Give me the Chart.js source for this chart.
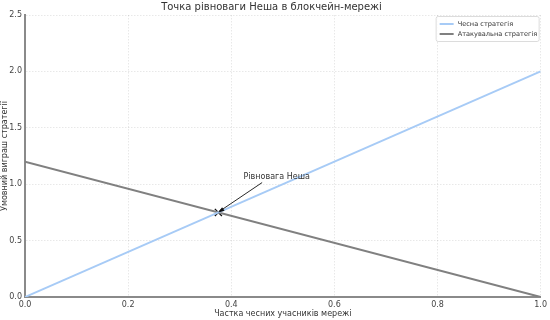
<!DOCTYPE html>
<html>
<head>
<meta charset="utf-8">
<script src="https://cdn.jsdelivr.net/npm/chart.js@4.4.1/dist/chart.umd.min.js"></script>
<style>
html,body{margin:0;padding:0;background:#fff;}
#wrap{width:550px;height:320px;}
</style>
</head>
<body>
<div id="wrap"><canvas id="c" width="550" height="320"></canvas></div>
<script>
const titleText = "Точка рівноваги Неша в блокчейн-мережі";
const xTitle = "Частка чесних учасників мережі";
const yTitle = "Умовний виграш стратегії";
const xShare = [0, 1];
const honestPayoff = [0, 2];
const attackPayoff = [1.2, 0];
const seriesLabels = ["Чесна стратегія", "Атакувальна стратегія"];
const equilibrium = [{x: 0.375, y: 0.75}];
const annotationText = "Рівновага Неша";
const annotationTextPos = {x: 0.42, y: 1.05};
const xTicks = [0, 0.2, 0.4, 0.6, 0.8, 1.0];
const yTicks = [0, 0.5, 1.0, 1.5, 2.0, 2.5];

const FONT = "'DejaVu Sans', sans-serif";
const honestColor = "#a7cbf6";
const attackColor = "#808080";

const annotPlugin = {
  id: 'annot',
  afterDatasetsDraw(chart) {
    const {ctx, scales: {x, y}} = chart;
    const px = x.getPixelForValue(equilibrium[0].x), py = y.getPixelForValue(equilibrium[0].y);
    const tx = x.getPixelForValue(annotationTextPos.x), ty = y.getPixelForValue(annotationTextPos.y);
    ctx.save();
    ctx.font = "8px " + FONT;
    ctx.fillStyle = "#333";
    ctx.textBaseline = "alphabetic";
    ctx.textAlign = "left";
    ctx.fillText(annotationText, tx + 2, ty);
    const w = ctx.measureText(annotationText).width;
    const sx = tx + 2 + w * 0.28, sy = ty + 4;
    ctx.strokeStyle = "#111";
    ctx.lineWidth = 0.9;
    ctx.beginPath(); ctx.moveTo(sx, sy); ctx.lineTo(px + 1, py - 1); ctx.stroke();
    const ang = Math.atan2(py - sy, px - sx);
    const hl = 6, hw = 2.2;
    const bx = px - Math.cos(ang) * hl, by = py - Math.sin(ang) * hl;
    ctx.fillStyle = "#111";
    ctx.beginPath();
    ctx.moveTo(px, py);
    ctx.lineTo(bx + Math.sin(ang) * hw, by - Math.cos(ang) * hw);
    ctx.lineTo(bx - Math.sin(ang) * hw, by + Math.cos(ang) * hw);
    ctx.closePath(); ctx.fill();
    ctx.restore();
  },
  afterDraw(chart) {
    const {ctx, chartArea} = chart;
    ctx.save();
    const bx = chartArea.right - 105, by = chartArea.top + 1, bw = 103, bh = 25;
    ctx.fillStyle = "rgba(255,255,255,0.85)";
    ctx.strokeStyle = "#dcdcdc";
    ctx.lineWidth = 1;
    ctx.beginPath();
    ctx.roundRect(bx + 0.5, by + 0.5, bw, bh, 2);
    ctx.fill(); ctx.stroke();
    ctx.font = "6.6px " + FONT;
    ctx.textBaseline = "middle";
    ctx.textAlign = "left";
    chart.data.datasets.slice(0, 2).forEach((ds, i) => {
      const yy = by + 8 + i * 10;
      ctx.strokeStyle = ds.borderColor;
      ctx.lineWidth = 2;
      ctx.beginPath(); ctx.moveTo(bx + 4, yy); ctx.lineTo(bx + 18, yy); ctx.stroke();
      ctx.fillStyle = "#333";
      ctx.fillText(ds.label, bx + 22, yy);
    });
    ctx.restore();
  }
};

new Chart(document.getElementById('c'), {
  type: 'line',
  data: {
    datasets: [
      {label: seriesLabels[0], data: xShare.map((v, i) => ({x: v, y: honestPayoff[i]})), borderColor: honestColor, borderWidth: 2, pointRadius: 0, fill: false},
      {label: seriesLabels[1], data: xShare.map((v, i) => ({x: v, y: attackPayoff[i]})), borderColor: attackColor, borderWidth: 2, pointRadius: 0, fill: false},
      {label: 'eq', data: equilibrium, showLine: false, pointStyle: 'crossRot', pointRadius: 5, borderColor: '#111', borderWidth: 1.3, backgroundColor: '#111'}
    ]
  },
  options: {
    responsive: false,
    animation: false,
    layout: {padding: {left: 0, right: 7, top: 0, bottom: 1}},
    plugins: {
      legend: {display: false},
      tooltip: {enabled: false},
      title: {display: true, text: titleText, color: '#333', font: {family: FONT, size: 10, weight: 'normal'}, padding: {top: 1, bottom: 2}}
    },
    scales: {
      x: {
        type: 'linear', min: 0, max: 1,
        afterBuildTicks: s => { s.ticks = xTicks.map(v => ({value: v})); },
        afterFit: s => { s.height = 22; },
        ticks: {color: '#444', font: {family: FONT, size: 8}, padding: 3, callback: v => v.toFixed(1), maxRotation: 0, autoSkip: false},
        grid: {color: 'rgba(0,0,0,0.09)', drawTicks: false},
        border: {display: true, color: '#8a8a8a', width: 2, dash: [1.5, 1.5]},
        title: {display: true, text: xTitle, color: '#333', font: {family: FONT, size: 8}, padding: {top: 0, bottom: 0}}
      },
      y: {
        type: 'linear', min: 0, max: 2.5,
        afterBuildTicks: s => { s.ticks = yTicks.map(v => ({value: v})); },
        afterFit: s => { s.width = 25; },
        ticks: {color: '#444', font: {family: FONT, size: 8}, padding: 3, callback: v => v.toFixed(1), autoSkip: false},
        grid: {color: 'rgba(0,0,0,0.09)', drawTicks: false},
        border: {display: true, color: '#8a8a8a', width: 2, dash: [1.5, 1.5]},
        title: {display: true, text: yTitle, color: '#333', font: {family: FONT, size: 8}, padding: {top: 0, bottom: 0}}
      }
    }
  },
  plugins: [annotPlugin]
});
</script>
</body>
</html>
